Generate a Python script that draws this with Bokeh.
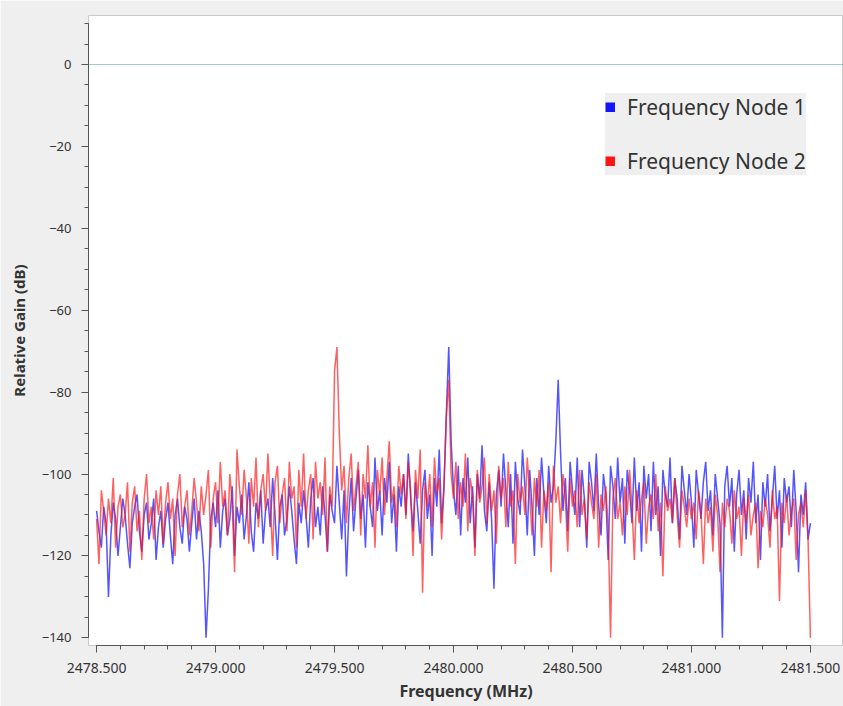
from bokeh.plotting import figure
from bokeh.models import (Span, Legend, LegendItem, FixedTicker, PrintfTickFormatter,
                          ColumnDataSource, Range1d)
from bokeh.embed import file_html
from bokeh.resources import INLINE

# ---- data ----
freq_start = 2478.5
freq_step = 0.01   # MHz between bins, 301 bins from 2478.5 to 2481.5

node1_db = [
    -109, -114, -118, -108, -112, -130, -115, -107, -111, -120,
    -113, -106, -110, -117, -123, -112, -108, -105, -114, -119,
    -110, -107, -116, -112, -106, -121, -113, -109, -118, -111,
    -107, -115, -122, -110, -106, -113, -117, -108, -111, -119,
    -112, -106, -116, -109, -114, -122, -140, -128, -111, -107,
    -113, -104, -118, -109, -106, -115, -111, -103, -120, -108,
    -112, -105, -116, -110, -102, -114, -119, -107, -111, -104,
    -117, -109, -106, -113, -101, -110, -121, -108, -105, -115,
    -111, -103, -109, -116, -122, -107, -112, -104, -110, -118,
    -106, -101, -113, -108, -115, -103, -110, -119, -105, -109,
    -112, -98, -107, -116, -104, -125, -110, -101, -114, -106,
    -99, -111, -105, -118, -102, -108, -113, -96, -109, -104,
    -115, -101, -107, -97, -112, -105, -119, -103, -108, -100,
    -110, -95, -106, -114, -102, -109, -117, -104, -99, -111,
    -105, -120, -101, -108, -94, -112, -103, -85, -69, -92,
    -104, -110, -98, -115, -101, -107, -96, -112, -103, -118,
    -100, -106, -93, -109, -114, -102, -111, -128, -105, -99,
    -108, -95, -104, -113, -100, -117, -97, -106, -110, -94,
    -103, -115, -99, -108, -120, -101, -110, -96, -105, -112,
    -98, -107, -103, -92, -77, -95, -109, -101, -114, -97,
    -104, -110, -96, -113, -99, -106, -118, -97, -102, -109,
    -95, -108, -115, -100, -105, -121, -98, -103, -111, -96,
    -107, -101, -117, -99, -104, -112, -96, -109, -102, -119,
    -98, -106, -100, -114, -97, -110, -103, -120, -99, -105,
    -108, -96, -112, -101, -106, -116, -98, -104, -110, -100,
    -107, -118, -99, -105, -111, -102, -97, -109, -104, -115,
    -100, -106, -112, -140, -103, -98, -108, -101, -119, -105,
    -99, -110, -104, -116, -101, -107, -97, -112, -105, -121,
    -102, -108, -100, -114, -106, -98, -111, -104, -118, -101,
    -107, -103, -113, -99, -109, -124, -105, -110, -102, -116,
    -112,
]

node2_db = [
    -111, -122, -104, -109, -115, -106, -112, -101, -118, -108,
    -105, -113, -110, -102, -119, -107, -103, -114, -109, -121,
    -106, -100, -112, -108, -116, -104, -110, -103, -117, -107,
    -102, -111, -106, -120, -105, -100, -113, -108, -104, -115,
    -109, -101, -107, -114, -103, -110, -105, -99, -118, -106,
    -102, -112, -97, -108, -104, -115, -100, -107, -124, -94,
    -103, -110, -99, -106, -117, -101, -108, -96, -113, -104,
    -100, -109, -95, -107, -120, -102, -98, -112, -105, -101,
    -114, -97, -106, -103, -118, -99, -108, -95, -111, -104,
    -100, -116, -97, -106, -102, -110, -96, -119, -103, -108,
    -75, -69, -90, -104, -98, -112, -101, -95, -109, -103,
    -97, -115, -100, -106, -93, -108, -102, -118, -99, -105,
    -96, -110, -101, -92, -107, -103, -113, -98, -105, -100,
    -111, -97, -104, -120, -99, -106, -94, -129, -102, -108,
    -100, -113, -96, -105, -101, -116, -103, -86, -77, -100,
    -106, -97, -111, -102, -108, -95, -114, -101, -105, -120,
    -99, -107, -103, -96, -112, -100, -109, -104, -117, -98,
    -106, -101, -113, -97, -108, -104, -122, -100, -107, -103,
    -110, -96, -105, -115, -101, -108, -99, -118, -104, -109,
    -102, -124, -98, -107, -103, -112, -100, -106, -119, -101,
    -108, -104, -113, -99, -110, -106, -116, -102, -107, -111,
    -100, -118, -105, -109, -103, -113, -140, -106, -101, -111,
    -107, -115, -103, -110, -99, -108, -121, -104, -112, -106,
    -102, -117, -108, -105, -111, -100, -114, -107, -125, -103,
    -109, -106, -112, -101, -110, -118, -104, -108, -113, -106,
    -111, -107, -116, -104, -109, -122, -106, -112, -108, -119,
    -105, -110, -124, -107, -113, -106, -109, -117, -104, -111,
    -108, -120, -106, -112, -105, -115, -110, -107, -123, -109,
    -113, -106, -110, -118, -104, -111, -108, -131, -107, -112,
    -105, -115, -109, -106, -121, -110, -107, -113, -104, -116,
    -140,
]

x_ticks = [2478.5, 2479.0, 2479.5, 2480.0, 2480.5, 2481.0, 2481.5]
y_ticks = [-140, -120, -100, -80, -60, -40, -20, 0]
series_names = ["Frequency Node 1", "Frequency Node 2"]

f1 = [round(freq_start + i * freq_step, 4) for i in range(len(node1_db))]
f2 = [round(freq_start + i * freq_step, 4) for i in range(len(node2_db))]
src1 = ColumnDataSource(dict(f=f1, db=node1_db))
src2 = ColumnDataSource(dict(f=f2, db=node2_db))

FONT = "Noto Sans"
BG = "#efefef"
BLUE = "#1414ff"
RED = "#ff1414"

p = figure(width=843, height=706, output_backend="svg", toolbar_location=None,
           x_range=Range1d(2478.466, 2481.639), y_range=Range1d(-141.88, 11.97),
           min_border_left=88, min_border_right=0, min_border_top=15, min_border_bottom=61)

p.background_fill_color = "white"
p.border_fill_color = BG
p.outline_line_color = "#c8c8c8"
p.grid.visible = False

p.line("f", "db", source=src1, line_color=BLUE, line_width=1.5, line_alpha=0.72)
p.line("f", "db", source=src2, line_color=RED, line_width=1.5, line_alpha=0.68)

p.add_layout(Span(location=0, dimension="width", line_color="#2e9e96",
                  line_dash="1 1", line_width=1.2))

# legend swatches: renderers holding a single NaN point, so nothing is drawn in the plot
nan = float("nan")
sw_src = ColumnDataSource(dict(x=[nan], y=[nan]))
sw1 = p.line("x", "y", source=sw_src, line_color=BLUE, line_width=10, line_cap="butt")
sw2 = p.line("x", "y", source=sw_src, line_color=RED, line_width=10, line_cap="butt")
legend = Legend(items=[LegendItem(label=series_names[0], renderers=[sw1]),
                       LegendItem(label=series_names[1], renderers=[sw2])],
                location=(517, 470), orientation="vertical")
legend.background_fill_color = BG
legend.background_fill_alpha = 1.0
legend.border_line_color = None
legend.label_text_font = FONT
legend.label_text_font_size = "21px"
legend.label_text_color = "#333333"
legend.glyph_width = 10
legend.glyph_height = 10
legend.label_standoff = 12
legend.spacing = 26
legend.padding = 9
legend.margin = 0
legend.label_height = 24
p.add_layout(legend)

# axes
xa = p.xaxis[0]
xa.ticker = FixedTicker(ticks=x_ticks,
                        minor_ticks=[round(2478.5 + 0.1 * k, 2) for k in range(31)])
xa.formatter = PrintfTickFormatter(format="%.3f")
xa.bounds = (2478.5, 2481.5)
xa.axis_label = "Frequency (MHz)"

ya = p.yaxis[0]
ya.ticker = FixedTicker(ticks=y_ticks, minor_ticks=list(range(-140, 11, 5)))
ya.bounds = (-140, 10)
ya.axis_label = "Relative Gain (dB)"

for ax in (xa, ya):
    ax.axis_line_color = "#555555"
    ax.major_tick_line_color = "#555555"
    ax.minor_tick_line_color = "#555555"
    ax.major_tick_in = 0
    ax.minor_tick_in = 0
    ax.major_tick_out = 7
    ax.minor_tick_out = 4
    ax.major_label_text_font = FONT
    ax.major_label_text_color = "#333333"
    ax.axis_label_text_font = FONT
    ax.axis_label_text_font_style = "bold"
    ax.axis_label_text_color = "#333333"

xa.major_label_text_font_size = "14px"
xa.axis_label_text_font_size = "16px"
xa.major_label_standoff = 10
xa.axis_label_standoff = 4
ya.major_label_text_font_size = "13px"
ya.axis_label_text_font_size = "15px"
ya.major_label_standoff = 10
ya.axis_label_standoff = 10

open("out.html", "w").write(file_html(p, INLINE))
